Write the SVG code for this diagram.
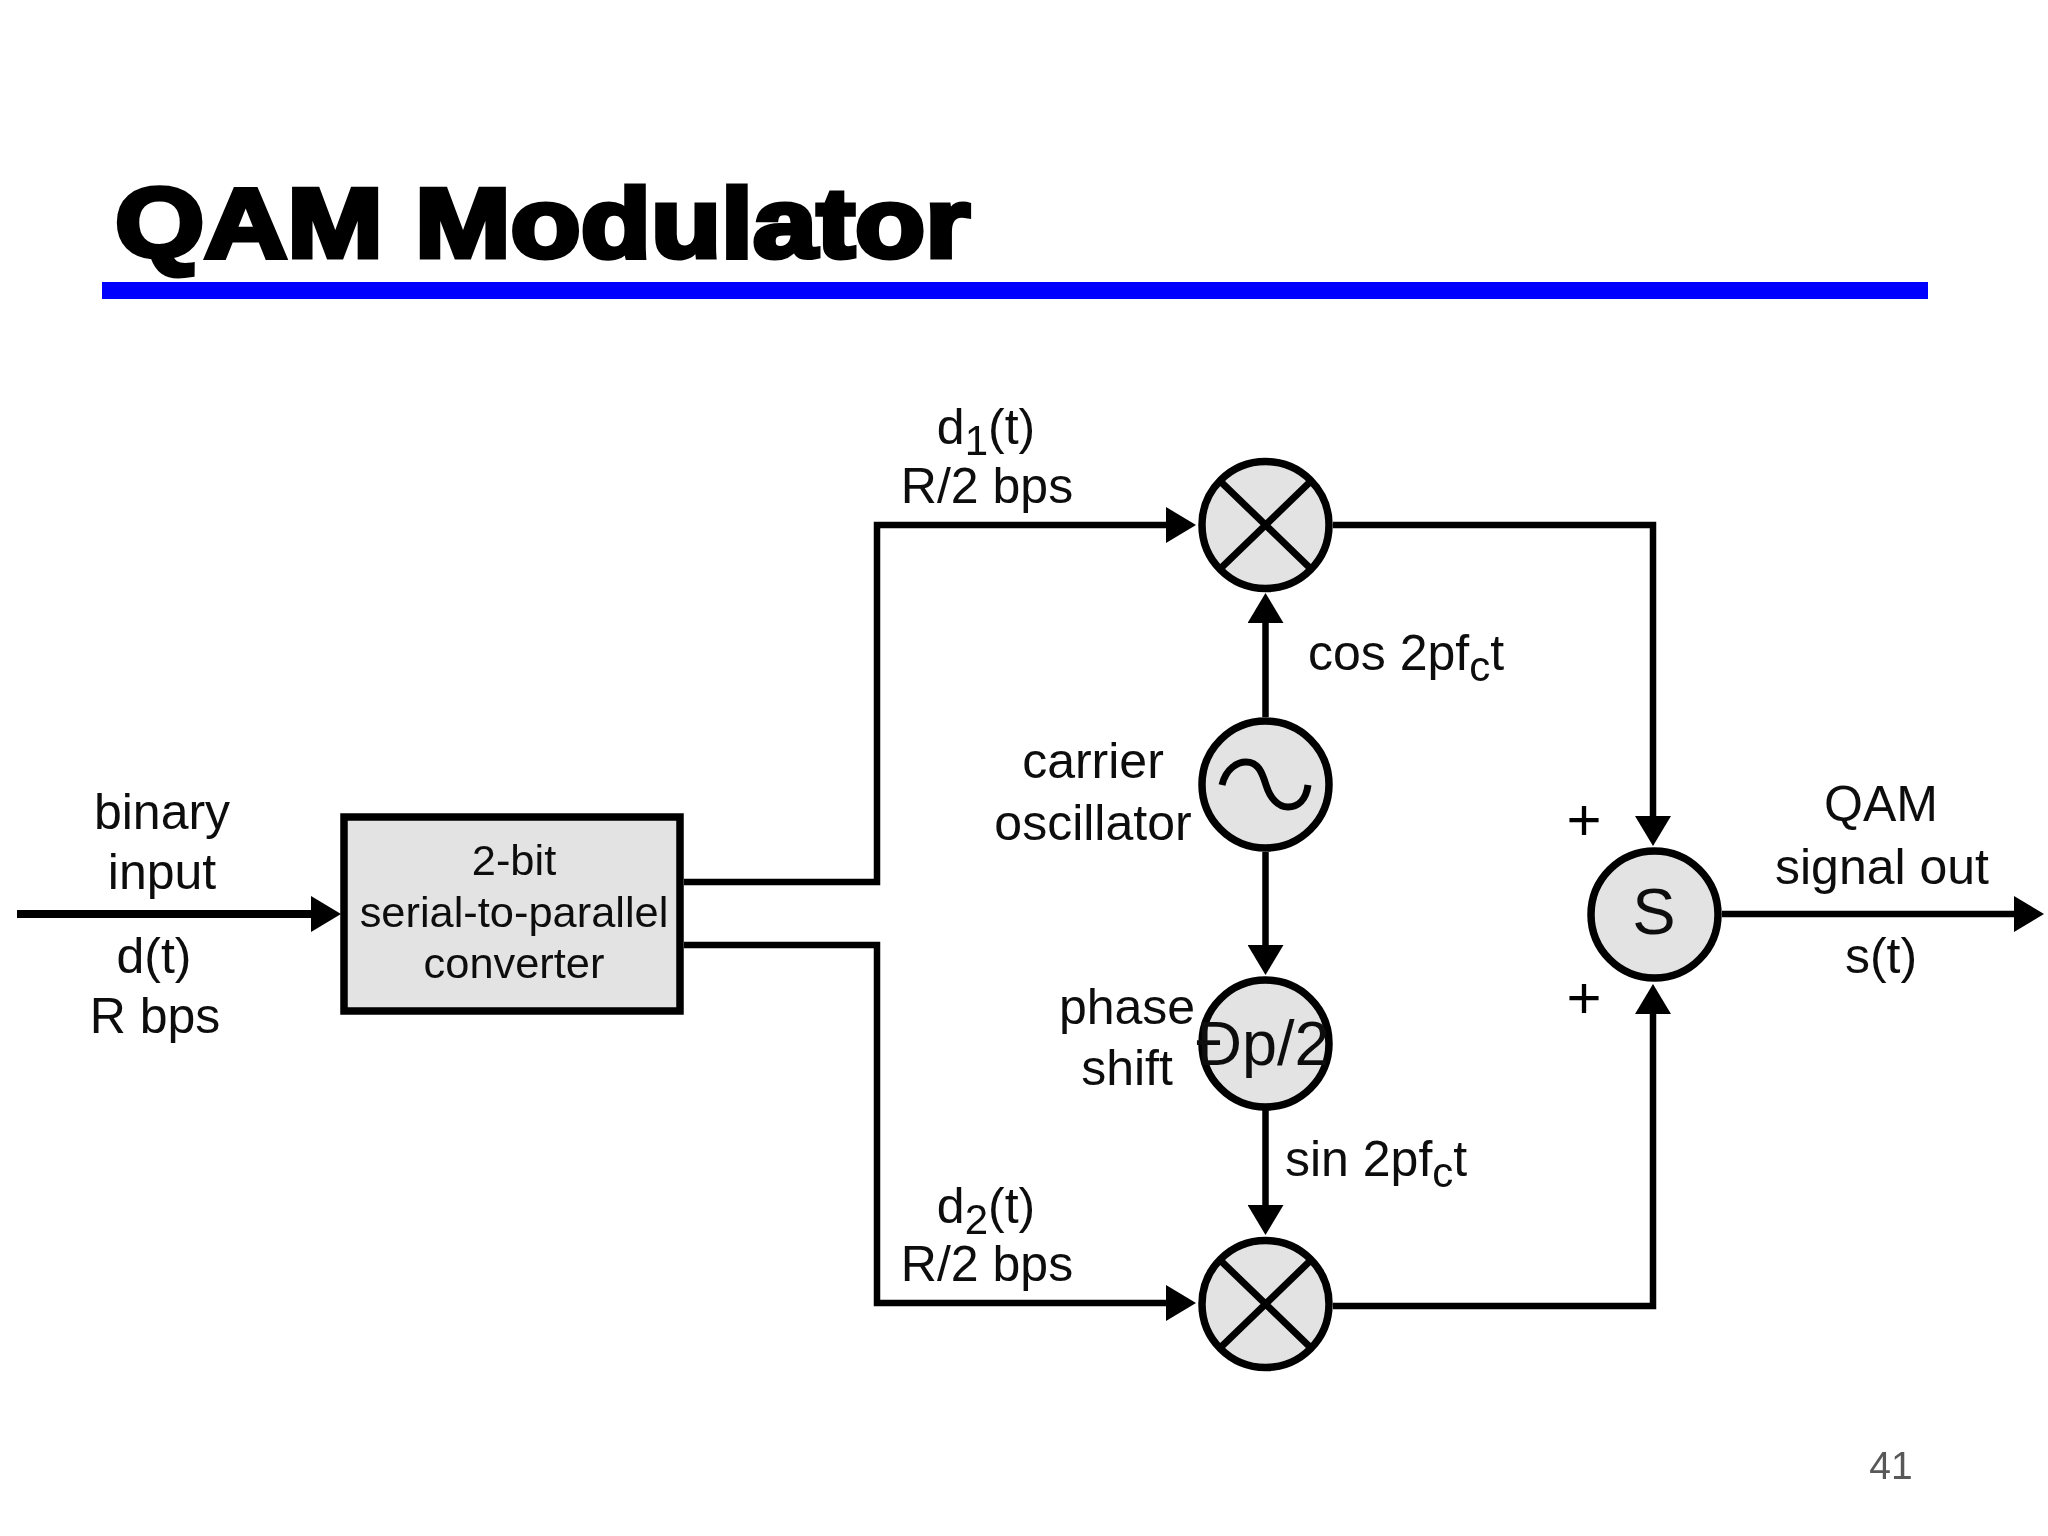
<svg xmlns="http://www.w3.org/2000/svg" width="2048" height="1536" viewBox="0 0 2048 1536">
<style>
text{font-family:"Liberation Sans",Arial,sans-serif;fill:#111;text-anchor:middle;font-size:50px}
.sm{font-size:43.4px}
.st{text-anchor:start}
.sub{font-size:42px}
.n{fill:#e3e3e3;stroke:#000;stroke-width:7.5}
.i{fill:none;stroke:#000;stroke-width:7}
.c{fill:none;stroke:#000;stroke-width:6.5;marker-end:url(#a)}
</style>
<defs>
<marker id="a" markerUnits="userSpaceOnUse" viewBox="0 0 30 36" markerWidth="30" markerHeight="36" refX="4" refY="18" orient="auto"><path d="M0 0L30 18L0 36Z" fill="#000"/></marker>
<filter id="b" filterUnits="userSpaceOnUse" x="0" y="0" width="2048" height="1536"><feGaussianBlur stdDeviation="0.7"/></filter>
</defs>
<rect width="2048" height="1536" fill="#fff"/>
<g filter="url(#b)">
<g id="title">
<text x="115" y="257" textLength="855" lengthAdjust="spacingAndGlyphs" style="font-size:99px;font-weight:bold;text-anchor:start;fill:#000;stroke:#000;stroke-width:5">QAM Modulator</text>
<rect x="102" y="282" width="1826" height="17" fill="#0000ff"/>
</g>
<g id="connectors">
<path class="c" style="stroke-width:8" d="M17 914H315"/>
<path class="c" d="M684 882H877V525H1170"/>
<path class="c" d="M684 945H877V1303H1170"/>
<path class="c" d="M1265.5 717V619"/>
<path class="c" d="M1265.5 852V949"/>
<path class="c" d="M1265.5 1110V1209"/>
<path class="c" d="M1333 525H1653V820"/>
<path class="c" d="M1333 1306H1653V1010"/>
<path class="c" d="M1722 914H2018"/>
</g>
<g id="converter">
<rect class="n" x="344" y="817" width="336" height="194"/>
<text class="sm" x="514" y="875">2-bit</text>
<text class="sm" x="514" y="927">serial-to-parallel</text>
<text class="sm" x="514" y="978">converter</text>
</g>
<g id="mixer-top">
<circle class="n" cx="1265.5" cy="525" r="63.5"/>
<path class="i" d="M1220 481L1311 569M1311 481L1220 569"/>
</g>
<g id="oscillator">
<circle class="n" cx="1265.5" cy="784.5" r="63.5"/>
<path class="i" d="M1222 785C1226 768 1238 762 1246 762C1258 762 1262 772 1266 785C1270 798 1278 807 1288 807C1298 807 1306 800 1308 785"/>
</g>
<g id="phase-shifter">
<circle class="n" cx="1265.5" cy="1043.5" r="63.5"/>
<text x="1263" y="1065" style="font-size:63px">Ðp/2</text>
</g>
<g id="mixer-bottom">
<circle class="n" cx="1265.5" cy="1304" r="63.5"/>
<path class="i" d="M1220 1260L1311 1348M1311 1260L1220 1348"/>
</g>
<g id="summer">
<circle class="n" cx="1654.5" cy="914.5" r="63.5"/>
<text x="1654" y="934" style="font-size:65px">S</text>
</g>
<g id="labels">
<text x="162" y="829">binary</text>
<text x="162" y="889">input</text>
<text x="154" y="973">d(t)</text>
<text x="155" y="1033">R bps</text>
<text x="986" y="444">d<tspan class="sub" dy="11">1</tspan><tspan dy="-11">(t)</tspan></text>
<text x="987" y="503">R/2 bps</text>
<text x="986" y="1223">d<tspan class="sub" dy="11">2</tspan><tspan dy="-11">(t)</tspan></text>
<text x="987" y="1281">R/2 bps</text>
<text class="st" x="1308" y="670">cos 2pf<tspan class="sub" dy="11">c</tspan><tspan dy="-11">t</tspan></text>
<text class="st" x="1285" y="1176">sin 2pf<tspan class="sub" dy="11">c</tspan><tspan dy="-11">t</tspan></text>
<text x="1093" y="778">carrier</text>
<text x="1093" y="840">oscillator</text>
<text x="1127" y="1024">phase</text>
<text x="1127" y="1085">shift</text>
<text x="1881" y="821">QAM</text>
<text x="1882" y="884">signal out</text>
<text x="1881" y="973">s(t)</text>
<text x="1584" y="840" style="font-size:60px;fill:#000">+</text>
<text x="1584" y="1018" style="font-size:60px;fill:#000">+</text>
</g>
<text id="page-number" x="1891" y="1479" style="font-size:39px;fill:#595959">41</text>
</g>
</svg>
